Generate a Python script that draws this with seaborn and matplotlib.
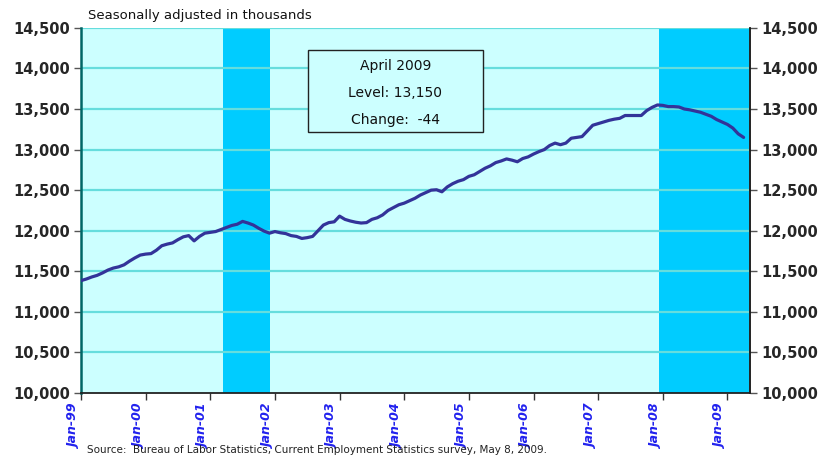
import numpy as np
import pandas as pd
import matplotlib
matplotlib.use("Agg")
import matplotlib.pyplot as plt
from matplotlib.patches import Rectangle
import seaborn as sns

# Monthly employment level, seasonally adjusted, thousands (Jan 1999 - Apr 2009)
employment = [
    # 1999
    11385, 11405, 11430, 11450, 11480, 11515, 11540, 11555, 11580, 11625, 11665, 11700,
    # 2000
    11712, 11718, 11760, 11815, 11835, 11850, 11890, 11925, 11940, 11875, 11930, 11970,
    # 2001
    11980, 11990, 12015, 12040, 12065, 12080, 12115, 12095, 12070, 12030, 11995, 11970,
    # 2002
    11990, 11975, 11965, 11940, 11930, 11905, 11915, 11930, 12000, 12070, 12100, 12110,
    # 2003
    12180, 12140, 12120, 12105, 12095, 12100, 12140, 12160, 12195, 12250, 12285, 12320,
    # 2004
    12340, 12370, 12400, 12440, 12470, 12500, 12505, 12480, 12540, 12580, 12610, 12630,
    # 2005
    12670, 12690, 12730, 12770, 12800, 12840, 12860, 12885, 12870, 12850, 12890, 12910,
    # 2006
    12945, 12975, 13000, 13050, 13080, 13060, 13080, 13140, 13150, 13160, 13230, 13300,
    # 2007
    13320, 13340, 13360, 13375, 13385, 13420, 13420, 13420, 13420, 13480, 13520, 13550,
    # 2008
    13545, 13530, 13530, 13525, 13500, 13490, 13475, 13460, 13435, 13410, 13370, 13340,
    # 2009
    13310, 13265, 13194, 13150,
]
months = pd.date_range("1999-01-01", periods=len(employment), freq="MS")

# recession periods (first and last month)
recessions = [("2001-03-01", "2001-11-01"), ("2007-12-01", "2009-04-01")]

y_ticks = [10000, 10500, 11000, 11500, 12000, 12500, 13000, 13500, 14000, 14500]
x_tick_years = list(range(1999, 2010))

bg_color = "#CCFFFF"
rec_color = "#00CCFF"
grid_color = "#66DDDD"
line_color = "#333399"

df = pd.DataFrame({"idx": np.arange(len(employment)), "month": months, "level": employment})

sns.set_style("white")
plt.rcParams["font.family"] = ["DejaVu Sans"]

fig = plt.figure(figsize=(8.22, 4.57), dpi=100)
ax = fig.add_axes([0.0985, 0.140, 0.814, 0.799])
ax.set_facecolor(bg_color)

n = len(employment)
ax.set_xlim(0, n + 0.2)
ax.set_ylim(y_ticks[0], y_ticks[-1])

# recession shading
for start, end in recessions:
    s = df.loc[df["month"] == pd.Timestamp(start), "idx"].iloc[0] + 0.3
    e = df.loc[df["month"] == pd.Timestamp(end), "idx"].iloc[0] + 1
    ax.axvspan(s, min(e, n + 0.2), color=rec_color, lw=0, zorder=1)

# gridlines
for yv in y_ticks[1:]:
    ax.axhline(yv, color=grid_color, lw=1.6, zorder=2)

sns.lineplot(data=df, x="idx", y="level", color=line_color, lw=2.3, ax=ax, zorder=4)

ax.set_xlabel("")
ax.set_ylabel("")

# y axis on both sides
ax.set_yticks(y_ticks)
ax.set_yticklabels([f"{v:,}" for v in y_ticks], fontsize=10.5, fontweight="bold")
ax.tick_params(axis="y", left=True, right=True, labelleft=True, labelright=True,
               length=5, width=1, color="#555555", pad=3)

# x ticks every January
xt = [df.loc[df["month"] == pd.Timestamp(f"{yr}-01-01"), "idx"].iloc[0] for yr in x_tick_years]
ax.set_xticks(xt)
ax.set_xticklabels([f"Jan-{str(yr)[2:]}" for yr in x_tick_years], rotation=90,
                   ha="right", va="top", fontsize=9, fontweight="bold",
                   style="italic", color="#2222EE")
ax.tick_params(axis="x", bottom=True, length=5, width=1, color="#333333", pad=3)

ax.spines["top"].set_visible(False)
ax.spines["left"].set_color("#006666")
ax.spines["left"].set_linewidth(1.8)
ax.spines["bottom"].set_color("#222222")
ax.spines["bottom"].set_linewidth(1.3)
ax.spines["right"].set_color("#111111")
ax.spines["right"].set_linewidth(1.3)

# annotation box
last = employment[-1]
change = employment[-1] - employment[-2]
box = Rectangle((0.339, 0.715), 0.262, 0.225, transform=ax.transAxes,
                facecolor=bg_color, edgecolor="#222222", lw=1.0, zorder=5)
ax.add_patch(box)
cx = 0.339 + 0.262 / 2
ax.text(cx, 0.895, months[-1].strftime("%B %Y"), transform=ax.transAxes,
        ha="center", va="center", fontsize=10, zorder=6, color="#111111")
ax.text(cx, 0.822, f"Level: {last:,}", transform=ax.transAxes,
        ha="center", va="center", fontsize=10, zorder=6, color="#111111")
ax.text(cx, 0.748, f"Change:  {change}", transform=ax.transAxes,
        ha="center", va="center", fontsize=10, zorder=6, color="#111111")

fig.text(88 / 822, 1 - 16 / 457, "Seasonally adjusted in thousands", fontsize=9.5,
         ha="left", va="center", color="#111111")
fig.text(87 / 822, 1 - 450 / 457,
         "Source:  Bureau of Labor Statistics, Current Employment Statistics survey, May 8, 2009.",
         fontsize=7.5, ha="left", va="center", color="#222222")

fig.savefig("out.png", dpi=100)
